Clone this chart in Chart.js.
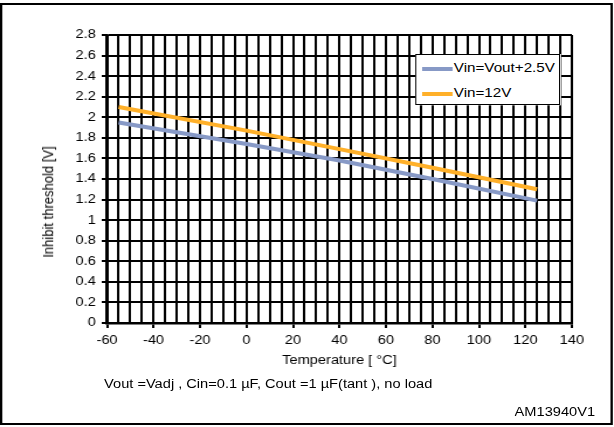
<!DOCTYPE html>
<html>
<head>
<meta charset="utf-8">
<script src="https://cdn.jsdelivr.net/npm/chart.js@4"></script>
<style>
  html, body { margin: 0; background: #fff; overflow: hidden; font-family: "Liberation Sans", Arial, sans-serif; }
  /* the reference text is wider than plain Arial, so the whole page is laid out
     at 525px and stretched to 614px */
  #wrap { position: relative; width: 525px; height: 427px; transform: scaleX(1.1695); transform-origin: 0 0; }
  #frame { position: absolute; left: 0; top: 3px; width: 520px; height: 418px; border: 2px solid #000; }
  #chartCanvas { position: absolute; left: 0; top: 0; }
  #legend { position: absolute; left: 355px; top: 54px; width: 122px; height: 49px; background: #fff;
            border: 1px solid #000; font-size: 13px; }
  .item { position: absolute; left: 5px; height: 14px; line-height: 14px; white-space: nowrap; }
  .swatch { display: inline-block; width: 26px; height: 4px; vertical-align: middle; margin-right: 1px; }
  #ytitle { position: absolute; left: 41px; top: 202px; font-size: 13px; white-space: nowrap;
            transform: translate(-50%, -50%) rotate(-90deg); }
  #note { position: absolute; left: 89px; top: 377px; font-size: 12.5px; white-space: nowrap; }
  #code { position: absolute; left: 440px; top: 405px; font-size: 12.5px; }
</style>
</head>
<body>
<div id="wrap">
  <div id="frame"></div>
  <canvas id="chartCanvas" width="525" height="427"></canvas>
  <div id="legend"></div>
  <div id="ytitle">Inhibit threshold [V]</div>
  <div id="note">Vout =Vadj , Cin=0.1 µF, Cout =1 µF(tant ), no load</div>
  <div id="code">AM13940V1</div>
</div>
<script>
// temperatures (°C)
var temps = [-55, 0, 40, 80, 125];
var vinVoutPlus = [1.95, 1.74, 1.58, 1.40, 1.19];
var vin12 = [2.10, 1.87, 1.69, 1.51, 1.30];

var seriesNames = ["Vin=Vout+2.5V", "Vin=12V"];
var seriesColors = ["#8799C6", "#FFB029"];

function toPoints(values) {
    return temps.map(function (t, i) { return { x: t, y: values[i] }; });
}

var datasets = [vinVoutPlus, vin12].map(function (values, i) {
    return {
        label: seriesNames[i],
        data: toPoints(values),
        borderColor: seriesColors[i],
        backgroundColor: seriesColors[i],
        borderWidth: 4,
        pointRadius: 0,
        fill: false,
        tension: 0
    };
});

var tickFont = { family: "Liberation Sans, Arial, sans-serif", size: 12.5 };

var config = {
    type: 'line',
    data: { datasets: datasets },
    options: {
        responsive: false,
        animation: false,
        layout: { padding: { left: 0, right: 36, top: 35, bottom: 59 } },
        plugins: {
            legend: { display: false },
            tooltip: { enabled: false }
        },
        scales: {
            x: {
                type: 'linear',
                min: -60,
                max: 140,
                afterFit: function (scale) { scale.height = 45; },
                grid: {
                    color: '#000',
                    lineWidth: 2,
                    tickLength: 5,
                    tickColor: function (ctx) {
                        return ctx.tick && ctx.tick.value % 20 === 0 ? '#000' : 'rgba(0,0,0,0)';
                    }
                },
                border: { color: '#000', width: 2.5 },
                ticks: {
                    stepSize: 5,
                    autoSkip: false,
                    maxRotation: 0,
                    padding: 5,
                    color: '#000',
                    font: tickFont,
                    callback: function (v) { return v % 20 === 0 ? String(v) : ''; }
                },
                title: {
                    display: true,
                    text: 'Temperature [ °C]',
                    color: '#000',
                    font: tickFont,
                    padding: 0
                }
            },
            y: {
                min: 0,
                max: 2.8,
                afterFit: function (scale) { scale.width = 91.5; },
                grid: { color: '#000', lineWidth: 2, tickLength: 4.5, tickColor: '#000' },
                border: { color: '#000', width: 2.5 },
                ticks: {
                    stepSize: 0.2,
                    padding: 5,
                    color: '#000',
                    font: tickFont,
                    callback: function (v) { return String(Number(v.toFixed(1))); }
                }
            }
        }
    }
};

var ctx = document.getElementById("chartCanvas").getContext("2d");
var chart = new Chart(ctx, config);

// legend box drawn as html, from the same series arrays
var legend = document.getElementById("legend");
seriesNames.forEach(function (name, i) {
    var item = document.createElement("div");
    item.className = "item";
    item.style.top = (i === 0 ? 6 : 31) + "px";
    item.innerHTML = '<span class="swatch" style="background:' + seriesColors[i] + '"></span>' + name;
    legend.appendChild(item);
});
</script>
</body>
</html>
